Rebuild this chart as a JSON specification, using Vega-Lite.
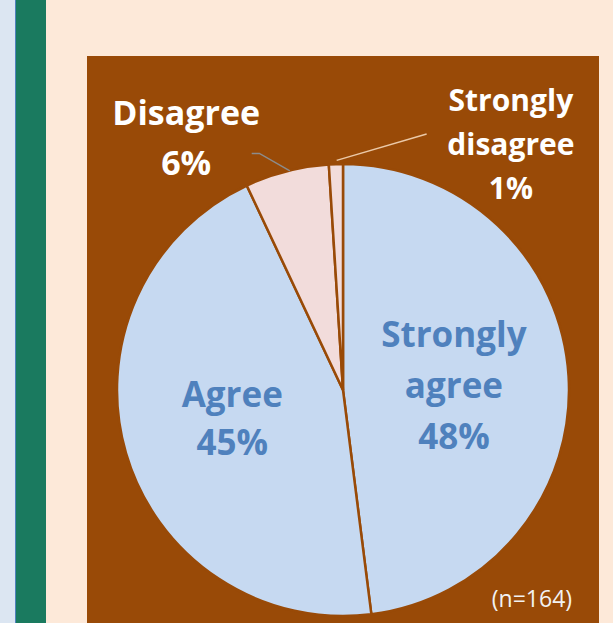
{
  "$schema": "https://vega.github.io/schema/vega-lite/v6.json",
  "padding": {"left": 0, "top": 0, "right": 14, "bottom": 0},
  "background": "#FDE9D9",
  "config": {"view": {"stroke": null}},
  "datasets": {
    "slices": [
      {"cat": "Strongly agree", "value": 48, "order": 1, "label": "Strongly\nagree\n48%", "lt": 19.1},
      {"cat": "Agree", "value": 45, "order": 2, "label": "Agree\n45%", "lt": 72.6},
      {"cat": "Disagree", "value": 6, "order": 3, "label": "Disagree\n6%", "lt": 91.5},
      {"cat": "Strongly disagree", "value": 1, "order": 4, "label": "Strongly\ndisagree\n1%", "lt": 8.61}
    ],
    "leaders": [
      {"id": "Disagree", "k": 1, "u": -0.404, "v": 1.047},
      {"id": "Disagree", "k": 2, "u": -0.370, "v": 1.047},
      {"id": "Disagree", "k": 3, "u": -0.235, "v": 0.970},
      {"id": "Strongly disagree", "k": 1, "u": -0.028, "v": 1.016},
      {"id": "Strongly disagree", "k": 2, "u": 0.370, "v": 1.133}
    ],
    "note": [{"u": 0.836, "v": -0.929, "t": "(n=164)"}]
  },
  "bounds": "flush",
  "spacing": 0,
  "hconcat": [
    {"data": {"values": [{}]}, "mark": {"type": "text", "text": ""}, "encoding": {}, "width": 15, "height": 623, "view": {"fill": "#DCE6F2", "stroke": null}},
    {"data": {"values": [{}]}, "mark": {"type": "text", "text": ""}, "encoding": {}, "width": 1, "height": 623, "view": {"fill": "#4F81BD", "stroke": null}},
    {"data": {"values": [{}]}, "mark": {"type": "text", "text": ""}, "encoding": {}, "width": 30, "height": 623, "view": {"fill": "#1A7A5F", "stroke": null}},
    {"data": {"values": [{}]}, "mark": {"type": "text", "text": ""}, "encoding": {}, "width": 41, "height": 623, "view": {"stroke": null}},
    {
      "bounds": "flush",
      "spacing": 0,
      "vconcat": [
        {"data": {"values": [{}]}, "mark": {"type": "text", "text": ""}, "encoding": {}, "width": 512, "height": 56, "view": {"stroke": null}},
        {"data": {"values": [{}]}, "mark": {"type": "text", "text": ""}, "encoding": {}, "width": 512, "height": 101, "view": {"fill": "#994A07", "stroke": null}},
        {
          "width": 512,
          "height": 466,
          "view": {"fill": "#994A07", "stroke": null},
          "layer": [
            {
              "data": {"name": "slices"},
              "mark": {"type": "arc", "outerRadius": 226, "stroke": "#994A07", "strokeWidth": 2.5},
              "encoding": {
                "theta": {"field": "value", "type": "quantitative", "stack": true, "scale": {"domain": [0, 100]}},
                "order": {"field": "order", "type": "quantitative"},
                "color": {
                  "field": "cat", "type": "nominal", "legend": null,
                  "scale": {
                    "domain": ["Strongly agree", "Agree", "Disagree", "Strongly disagree"],
                    "range": ["#C6D9F1", "#C6D9F1", "#F2DCDB", "#F2DCDB"]
                  }
                }
              }
            },
            {
              "data": {"name": "slices"},
              "transform": [{"filter": "datum.cat === 'Strongly agree'"}],
              "mark": {"type": "text", "radius": 119, "font": "Open Sans", "fontWeight": "bold", "fontSize": 35, "color": "#4F81BD", "lineBreak": "\n", "lineHeight": 51, "align": "center", "baseline": "alphabetic"},
              "encoding": {
                "theta": {"field": "lt", "type": "quantitative", "stack": null},
                "text": {"field": "label", "type": "nominal"}
              }
            },
            {
              "data": {"name": "slices"},
              "transform": [{"filter": "datum.cat === 'Agree'"}],
              "mark": {"type": "text", "radius": 112, "font": "Open Sans", "fontWeight": "bold", "fontSize": 35, "color": "#4F81BD", "lineBreak": "\n", "lineHeight": 48, "align": "center", "baseline": "alphabetic"},
              "encoding": {
                "theta": {"field": "lt", "type": "quantitative", "stack": null},
                "text": {"field": "label", "type": "nominal"}
              }
            },
            {
              "data": {"name": "slices"},
              "transform": [{"filter": "datum.cat === 'Disagree'"}],
              "mark": {"type": "text", "radius": 308, "font": "Open Sans", "fontWeight": "bold", "fontSize": 34, "color": "#FFFFFF", "lineBreak": "\n", "lineHeight": 50, "align": "center", "baseline": "alphabetic"},
              "encoding": {
                "theta": {"field": "lt", "type": "quantitative", "stack": null},
                "text": {"field": "label", "type": "nominal"}
              }
            },
            {
              "data": {"name": "slices"},
              "transform": [{"filter": "datum.cat === 'Strongly disagree'"}],
              "mark": {"type": "text", "radius": 326, "font": "Open Sans", "fontWeight": "bold", "fontSize": 30, "color": "#FFFFFF", "lineBreak": "\n", "lineHeight": 44, "align": "center", "baseline": "alphabetic"},
              "encoding": {
                "theta": {"field": "lt", "type": "quantitative", "stack": null},
                "text": {"field": "label", "type": "nominal"}
              }
            },
            {
              "data": {"name": "leaders"},
              "mark": {"type": "line", "strokeWidth": 1.5},
              "encoding": {
                "x": {"field": "u", "type": "quantitative", "axis": null, "scale": {"domain": [-1.1327, 1.1327], "zero": false, "nice": false}},
                "y": {"field": "v", "type": "quantitative", "axis": null, "scale": {"domain": [-1.031, 1.031], "zero": false, "nice": false}},
                "detail": {"field": "id", "type": "nominal"},
                "order": {"field": "k", "type": "quantitative"},
                "color": {"field": "id", "type": "nominal", "legend": null, "scale": {"domain": ["Disagree", "Strongly disagree"], "range": ["#8C8C8C", "#EBC9A8"]}}
              }
            },
            {
              "data": {"name": "note"},
              "mark": {"type": "text", "font": "Open Sans", "fontSize": 23, "color": "#F2F2F2", "align": "center", "baseline": "middle"},
              "encoding": {
                "x": {"field": "u", "type": "quantitative"},
                "y": {"field": "v", "type": "quantitative"},
                "text": {"field": "t", "type": "nominal"}
              }
            }
          ],
          "resolve": {"scale": {"color": "independent"}}
        }
      ]
    }
  ]
}
